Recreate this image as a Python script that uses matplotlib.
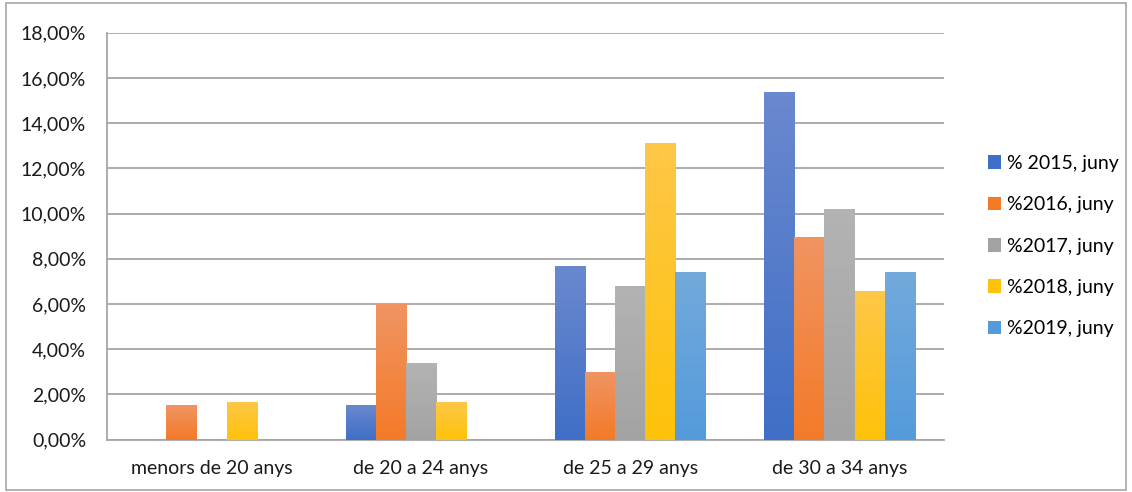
import matplotlib.pyplot as plt
from matplotlib.patches import Patch, Rectangle
from matplotlib.colors import to_rgb
import numpy as np

plt.rcParams['font.family'] = ['Lato', 'DejaVu Sans']

# data
categories = ['menors de 20 anys', 'de 20 a 24 anys', 'de 25 a 29 anys', 'de 30 a 34 anys']
series = ['% 2015, juny', '%2016, juny', '%2017, juny', '%2018, juny', '%2019, juny']
v2015 = [0.0, 1.53, 7.68, 15.38]
v2016 = [1.51, 6.00, 2.99, 8.96]
v2017 = [0.0, 3.38, 6.79, 10.20]
v2018 = [1.66, 1.66, 13.12, 6.57]
v2019 = [0.0, 0.0, 7.41, 7.41]
values = [v2015, v2016, v2017, v2018, v2019]
yticks = [0, 2, 4, 6, 8, 10, 12, 14, 16, 18]

# (top colour, bottom colour) for the excel-like gradient
colors = [('#6a88cf', '#3f6fc6'),
          ('#f09462', '#f47a28'),
          ('#b3b3b3', '#a3a3a3'),
          ('#fec747', '#fec20a'),
          ('#73a9dc', '#549bdb')]


def grad_bar(ax, x, w, h, top, bottom):
    # vertical gradient clipped to the bar rectangle
    if h <= 0:
        return
    c1 = np.array(to_rgb(top))
    c2 = np.array(to_rgb(bottom))
    t = np.linspace(0, 1, 64)[:, None]
    img = (c1 * (1 - t) + c2 * t)[:, None, :]
    ax.imshow(img, extent=(x - w / 2, x + w / 2, 0, h), aspect='auto',
              origin='upper', zorder=3, interpolation='bilinear')


fig = plt.figure(figsize=(11.32, 4.92), dpi=100)
ax = fig.add_axes([0.0945, 0.1067, 0.7395, 0.8268])

x = np.arange(len(categories))
w = 0.144
for i, vals in enumerate(values):
    for j, v in enumerate(vals):
        grad_bar(ax, x[j] + (i - 2) * w, w, v, *colors[i])

ax.set_xlim(-0.5, len(categories) - 0.5)
ax.set_ylim(0, 18)
ax.set_yticks(yticks)
ax.set_yticklabels([f'{t:.2f}%'.replace('.', ',') for t in yticks])
ax.set_xticks(x)
ax.set_xticklabels(categories)
ax.tick_params(length=0, labelsize=14, colors='#1a1a1a')
ax.tick_params(axis='x', pad=15)
ax.tick_params(axis='y', pad=15)
ax.grid(axis='y', color='#a6a6a6', linewidth=1.3, zorder=0)
ax.set_axisbelow(True)
for s in ['top', 'right']:
    ax.spines[s].set_visible(False)
ax.spines['left'].set_color('#a6a6a6')
ax.spines['bottom'].set_color('#a6a6a6')
ax.spines['left'].set_linewidth(1.3)
ax.spines['bottom'].set_linewidth(1.3)

handles = [Patch(facecolor=c[1], label=s) for c, s in zip(colors, series)]
fig.legend(handles=handles, loc='center left', bbox_to_anchor=(0.857, 0.5),
           frameon=False, fontsize=14, handlelength=0.7, handleheight=0.7,
           handletextpad=0.3, labelspacing=1.25)

fig.patches.append(Rectangle((0.005, 0.004), 0.99, 0.99, transform=fig.transFigure,
                             fill=False, edgecolor='#a6a6a6', linewidth=1.2))

fig.savefig('out.png', dpi=100)
